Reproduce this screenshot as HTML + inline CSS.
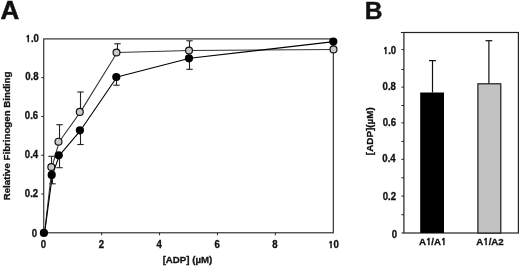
<!DOCTYPE html><html><head><meta charset="utf-8"><style>
html,body{margin:0;padding:0;background:#fff;width:520px;height:266px;overflow:hidden}
svg{display:block}
text{font-family:"Liberation Sans",Arial,sans-serif;font-weight:bold;fill:#111;stroke:#111;stroke-width:0.3px}
.one{font-family:NanumGothic,"Liberation Sans",sans-serif;font-weight:800;font-size:91%}
</style></head><body>
<svg width="520" height="266" viewBox="0 0 520 266">
<text transform="translate(0.6,19.0) scale(1.04,1)" font-size="25" style="stroke-width:0.5px">A</text>
<text x="364.7" y="18.9" font-size="24.5" style="stroke-width:0.45px">B</text>
<rect x="43.75" y="38.9" width="289.55" height="193.9" fill="none" stroke="#222" stroke-width="1.1"/>
<line x1="41.25" y1="194.02" x2="43.75" y2="194.02" stroke="#222" stroke-width="1"/>
<line x1="41.25" y1="155.24" x2="43.75" y2="155.24" stroke="#222" stroke-width="1"/>
<line x1="41.25" y1="116.46" x2="43.75" y2="116.46" stroke="#222" stroke-width="1"/>
<line x1="41.25" y1="77.68" x2="43.75" y2="77.68" stroke="#222" stroke-width="1"/>
<text transform="translate(38.90,42.03) scale(0.96,1)" font-size="10.0" text-anchor="end"><tspan class="one">1</tspan>.0</text>
<text transform="translate(38.50,79.98) scale(0.96,1)" font-size="10.0" text-anchor="end">0.8</text>
<text transform="translate(38.20,119.08) scale(0.96,1)" font-size="10.0" text-anchor="end">0.6</text>
<text transform="translate(38.20,157.98) scale(0.96,1)" font-size="10.0" text-anchor="end">0.4</text>
<text transform="translate(38.20,197.08) scale(0.96,1)" font-size="10.0" text-anchor="end">0.2</text>
<text transform="translate(37.20,236.58) scale(0.96,1)" font-size="10.0" text-anchor="end">0</text>
<text transform="translate(43.35,248.38) scale(0.96,1)" font-size="10.0" text-anchor="middle">0</text>
<line x1="101.66" y1="232.8" x2="101.66" y2="235.3" stroke="#222" stroke-width="1"/>
<text transform="translate(101.30,248.38) scale(0.96,1)" font-size="10.0" text-anchor="middle">2</text>
<line x1="159.57" y1="232.8" x2="159.57" y2="235.3" stroke="#222" stroke-width="1"/>
<text transform="translate(159.05,248.38) scale(0.96,1)" font-size="10.0" text-anchor="middle">4</text>
<line x1="217.48" y1="232.8" x2="217.48" y2="235.3" stroke="#222" stroke-width="1"/>
<text transform="translate(217.05,248.38) scale(0.96,1)" font-size="10.0" text-anchor="middle">6</text>
<line x1="275.39" y1="232.8" x2="275.39" y2="235.3" stroke="#222" stroke-width="1"/>
<text transform="translate(275.00,248.38) scale(0.96,1)" font-size="10.0" text-anchor="middle">8</text>
<text transform="translate(333.50,248.38) scale(0.96,1)" font-size="10.0" text-anchor="middle"><tspan class="one">1</tspan>0</text>
<text x="187.5" y="263.3" font-size="9.7" text-anchor="middle">[ADP] (µM)</text>
<text transform="translate(10.1,136.0) rotate(-90)" font-size="9.7" text-anchor="middle">Relative Fibrinogen Binding</text>
<polyline transform="translate(0.7,0)" points="43.90,232.80 51.30,167.00 58.50,141.70 79.80,111.90 116.50,52.50 189.00,50.50 333.50,49.40" fill="none" stroke="#333" stroke-width="1.05" stroke-linejoin="round"/>
<polyline transform="translate(0.7,0)" points="43.90,232.90 51.70,174.90 58.70,155.30 79.90,130.30 116.30,77.00 189.00,58.30 333.30,41.60" fill="none" stroke="#000" stroke-width="1.1" stroke-linejoin="round"/>
<line x1="51.50" y1="167.00" x2="51.50" y2="156.30" stroke="#222" stroke-width="1.1"/><line x1="48.30" y1="156.30" x2="54.70" y2="156.30" stroke="#222" stroke-width="1.1"/>
<line x1="59.50" y1="141.70" x2="59.50" y2="124.70" stroke="#222" stroke-width="1.1"/><line x1="56.30" y1="124.70" x2="62.70" y2="124.70" stroke="#222" stroke-width="1.1"/>
<line x1="80.50" y1="111.90" x2="80.50" y2="92.00" stroke="#222" stroke-width="1.1"/><line x1="77.30" y1="92.00" x2="83.70" y2="92.00" stroke="#222" stroke-width="1.1"/>
<line x1="117.50" y1="52.50" x2="117.50" y2="43.80" stroke="#222" stroke-width="1.1"/><line x1="114.30" y1="43.80" x2="120.70" y2="43.80" stroke="#222" stroke-width="1.1"/>
<line x1="189.50" y1="50.50" x2="189.50" y2="40.80" stroke="#222" stroke-width="1.1"/><line x1="186.30" y1="40.80" x2="192.70" y2="40.80" stroke="#222" stroke-width="1.1"/>
<line x1="52.50" y1="174.90" x2="52.50" y2="183.80" stroke="#222" stroke-width="1.1"/><line x1="49.30" y1="183.80" x2="55.70" y2="183.80" stroke="#222" stroke-width="1.1"/>
<line x1="59.50" y1="155.30" x2="59.50" y2="167.70" stroke="#222" stroke-width="1.1"/><line x1="56.30" y1="167.70" x2="62.70" y2="167.70" stroke="#222" stroke-width="1.1"/>
<line x1="80.50" y1="130.30" x2="80.50" y2="144.50" stroke="#222" stroke-width="1.1"/><line x1="77.30" y1="144.50" x2="83.70" y2="144.50" stroke="#222" stroke-width="1.1"/>
<line x1="116.50" y1="77.00" x2="116.50" y2="85.20" stroke="#222" stroke-width="1.1"/><line x1="113.30" y1="85.20" x2="119.70" y2="85.20" stroke="#222" stroke-width="1.1"/>
<line x1="189.50" y1="58.30" x2="189.50" y2="69.30" stroke="#222" stroke-width="1.1"/><line x1="186.30" y1="69.30" x2="192.70" y2="69.30" stroke="#222" stroke-width="1.1"/>
<circle cx="51.30" cy="167.00" r="3.45" fill="#c8c8c8" stroke="#111" stroke-width="1.2"/>
<circle cx="58.50" cy="141.70" r="3.45" fill="#c8c8c8" stroke="#111" stroke-width="1.2"/>
<circle cx="79.80" cy="111.90" r="3.45" fill="#c8c8c8" stroke="#111" stroke-width="1.2"/>
<circle cx="116.50" cy="52.50" r="3.45" fill="#c8c8c8" stroke="#111" stroke-width="1.2"/>
<circle cx="189.00" cy="50.50" r="3.45" fill="#c8c8c8" stroke="#111" stroke-width="1.2"/>
<circle cx="333.50" cy="49.40" r="3.45" fill="#c8c8c8" stroke="#111" stroke-width="1.2"/>
<circle cx="43.90" cy="232.90" r="4.1" fill="#000"/>
<circle cx="51.70" cy="174.90" r="4.1" fill="#000"/>
<circle cx="58.70" cy="155.30" r="4.1" fill="#000"/>
<circle cx="79.90" cy="130.30" r="4.1" fill="#000"/>
<circle cx="116.30" cy="77.00" r="4.1" fill="#000"/>
<circle cx="189.00" cy="58.30" r="4.1" fill="#000"/>
<circle cx="333.30" cy="41.60" r="4.1" fill="#000"/>
<rect x="403.9" y="32.5" width="114.5" height="200.5" fill="none" stroke="#222" stroke-width="1.2"/>
<line x1="400.9" y1="32.5" x2="403.9" y2="32.5" stroke="#222" stroke-width="1"/>
<line x1="401.4" y1="233.00" x2="403.9" y2="233.00" stroke="#222" stroke-width="1"/>
<line x1="401.4" y1="214.70" x2="403.9" y2="214.70" stroke="#222" stroke-width="1"/>
<line x1="401.4" y1="196.10" x2="403.9" y2="196.10" stroke="#222" stroke-width="1"/>
<line x1="401.4" y1="177.80" x2="403.9" y2="177.80" stroke="#222" stroke-width="1"/>
<line x1="401.4" y1="159.35" x2="403.9" y2="159.35" stroke="#222" stroke-width="1"/>
<line x1="401.4" y1="141.40" x2="403.9" y2="141.40" stroke="#222" stroke-width="1"/>
<line x1="401.4" y1="122.90" x2="403.9" y2="122.90" stroke="#222" stroke-width="1"/>
<line x1="401.4" y1="105.50" x2="403.9" y2="105.50" stroke="#222" stroke-width="1"/>
<line x1="401.4" y1="87.10" x2="403.9" y2="87.10" stroke="#222" stroke-width="1"/>
<line x1="401.4" y1="69.50" x2="403.9" y2="69.50" stroke="#222" stroke-width="1"/>
<line x1="401.4" y1="49.60" x2="403.9" y2="49.60" stroke="#222" stroke-width="1"/>
<text transform="translate(396.20,54.18) scale(0.96,1)" font-size="10.0" text-anchor="end"><tspan class="one">1</tspan>.0</text>
<text transform="translate(395.90,90.23) scale(0.96,1)" font-size="10.0" text-anchor="end">0.8</text>
<text transform="translate(396.00,125.93) scale(0.96,1)" font-size="10.0" text-anchor="end">0.6</text>
<text transform="translate(395.70,161.88) scale(0.96,1)" font-size="10.0" text-anchor="end">0.4</text>
<text transform="translate(396.00,199.93) scale(0.96,1)" font-size="10.0" text-anchor="end">0.2</text>
<text transform="translate(397.20,237.58) scale(0.96,1)" font-size="10.0" text-anchor="end">0</text>
<text transform="translate(373.0,131.2) rotate(-90)" font-size="9.9" text-anchor="middle">[ADP](µM)</text>
<line x1="432.50" y1="92.50" x2="432.50" y2="60.60" stroke="#111" stroke-width="1.2"/><line x1="429.00" y1="60.60" x2="436.00" y2="60.60" stroke="#111" stroke-width="1.2"/>
<rect x="420.2" y="92.5" width="23.8" height="140.50" fill="#000"/>
<line x1="488.90" y1="83.80" x2="488.90" y2="40.70" stroke="#111" stroke-width="1.2"/><line x1="485.50" y1="40.70" x2="492.30" y2="40.70" stroke="#111" stroke-width="1.2"/>
<rect x="477.9" y="83.8" width="22.9" height="149.20" fill="#c2c2c2" stroke="#1a1a1a" stroke-width="1.2"/>
<text x="432.6" y="244.8" font-size="9.7" text-anchor="middle">A<tspan class="one">1</tspan>/A<tspan class="one">1</tspan></text>
<text x="490.0" y="244.8" font-size="9.7" text-anchor="middle">A<tspan class="one">1</tspan>/A2</text>
</svg></body></html>
